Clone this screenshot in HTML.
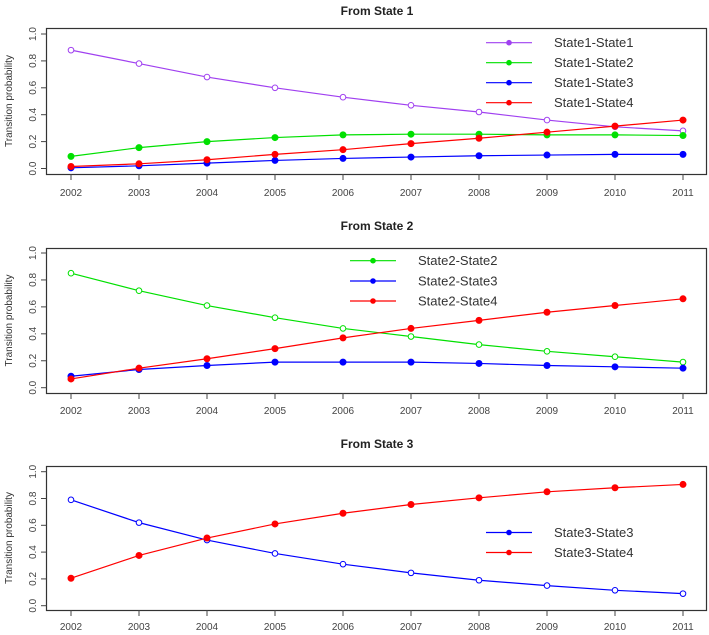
<!DOCTYPE html>
<html><head><meta charset="utf-8"><style>
html,body{margin:0;padding:0;background:#fff;}
svg{display:block;font-family:"Liberation Sans",Arial,sans-serif;}
</style></head><body>
<svg id="chart" width="709" height="635" viewBox="0 0 709 635"></svg>
<script>
const years = [2002,2003,2004,2005,2006,2007,2008,2009,2010,2011];
const yTicks = [0,0.2,0.4,0.6,0.8,1.0];
const yTickLabels = ["0.0","0.2","0.4","0.6","0.8","1.0"];
const p1Titles = "From State 1";
const p2Titles = "From State 2";
const p3Titles = "From State 3";
const s1s1 = [0.88,0.78,0.68,0.60,0.53,0.47,0.42,0.36,0.31,0.28];
const s1s2 = [0.09,0.155,0.20,0.23,0.25,0.255,0.255,0.25,0.25,0.245];
const s1s3 = [0.005,0.02,0.04,0.06,0.075,0.085,0.095,0.10,0.105,0.105];
const s1s4 = [0.015,0.035,0.065,0.105,0.14,0.185,0.225,0.27,0.315,0.36];
const s2s2 = [0.85,0.72,0.61,0.52,0.44,0.38,0.32,0.27,0.23,0.19];
const s2s3 = [0.085,0.135,0.165,0.19,0.19,0.19,0.18,0.165,0.155,0.145];
const s2s4 = [0.065,0.145,0.215,0.29,0.37,0.44,0.50,0.56,0.61,0.66];
const s3s3 = [0.79,0.62,0.49,0.39,0.31,0.245,0.19,0.15,0.115,0.09];
const s3s4 = [0.205,0.375,0.505,0.61,0.69,0.755,0.805,0.85,0.88,0.905];

const NS="http://www.w3.org/2000/svg";
const svg=document.getElementById('chart');
function mk(tag,attrs,parent){const e=document.createElementNS(NS,tag);for(const k in attrs)e.setAttribute(k,attrs[k]);(parent||svg).appendChild(e);return e;}
const COL={purple:"#a040f0",green:"#00e000",blue:"#0000ff",red:"#ff0000"};

const panels=[
 {title:p1Titles,titleY:15,boxTop:28,boxBot:174,y1:34,y0:168.5,labY:199,
  series:[["State1-State1",s1s1,COL.purple,true],["State1-State2",s1s2,COL.green,false],["State1-State3",s1s3,COL.blue,false],["State1-State4",s1s4,COL.red,false]],
  leg:{x1:486,x2:532,tx:554,y:[42.7,62.7,82.7,102.7]}},
 {title:p2Titles,titleY:230,boxTop:248,boxBot:393,y1:253,y0:387.7,labY:417,
  series:[["State2-State2",s2s2,COL.green,true],["State2-State3",s2s3,COL.blue,false],["State2-State4",s2s4,COL.red,false]],
  leg:{x1:350,x2:396,tx:418,y:[260.7,281,301]}},
 {title:p3Titles,titleY:448,boxTop:466,boxBot:610,y1:471.7,y0:605.7,labY:633,
  series:[["State3-State3",s3s3,COL.blue,true],["State3-State4",s3s4,COL.red,false]],
  leg:{x1:486,x2:532,tx:554,y:[532.5,552.5]}}
];
const xL=71,xR=683;
function xs(yr){return xL+(yr-years[0])*(xR-xL)/(years[years.length-1]-years[0]);}

panels.forEach((p,pi)=>{
  const g=mk('g',{});
  
  
  const ys=v=>p.y0+(p.y1-p.y0)*v;
  const t=mk('text',{x:377,y:p.titleY,'text-anchor':'middle','font-size':12,'font-weight':'bold',fill:'#222'},g);
  t.textContent=p.title;
  
  
  const box=mk('rect',{x:46.5,y:p.boxTop+0.5,width:660,height:p.boxBot-p.boxTop,fill:'none',stroke:'#333','stroke-width':1.2},g);
  
  
  const ya=mk('g',{},g);
  
  
  yTicks.forEach((v,i)=>{
    const y=ys(v);
    mk('line',{x1:41,x2:46.5,y1:y,y2:y,stroke:'#444'},ya);
    const lt=mk('text',{x:0,y:0,transform:`translate(36,${y}) rotate(-90)`,'text-anchor':'middle','font-size':10,fill:'#444'},ya);
    lt.textContent=yTickLabels[i];
    
    
  });
  const yt=mk('text',{x:0,y:0,transform:`translate(12,${(p.boxTop+p.boxBot)/2}) rotate(-90)`,'text-anchor':'middle','font-size':10,fill:'#333'},ya);
  yt.textContent='Transition probability';
  
  
  const xa=mk('g',{},g);
  
  
  years.forEach(yr=>{
    const x=xs(yr);
    mk('line',{x1:x,x2:x,y1:p.boxBot,y2:p.boxBot+6,stroke:'#444'},xa);
    const lt=mk('text',{x:x,y:p.labY-3,'text-anchor':'middle','font-size':10,fill:'#444'},xa);
    lt.textContent=yr;
    
    
  });
  p.series.forEach(([name,vals,col,open])=>{
    const sg=mk('g',{},g);
    
    
    const pts=vals.map((v,i)=>xs(years[i])+','+ys(v)).join(' ');
    mk('polyline',{points:pts,fill:'none',stroke:col,'stroke-width':1.2},sg);
    vals.forEach((v,i)=>{
      const c=mk('circle',{cx:xs(years[i]),cy:ys(v),r:open?2.8:3,fill:open?'#fff':col,stroke:col,'stroke-width':1},sg);
      
      
    });
  });
  const lg=mk('g',{},g);
  
  
  p.series.forEach(([name,vals,col],i)=>{
    const y=p.leg.y[i];
    const e=mk('g',{},lg);
    
    
    mk('line',{x1:p.leg.x1,x2:p.leg.x2,y1:y,y2:y,stroke:col,'stroke-width':1.2},e);
    mk('circle',{cx:(p.leg.x1+p.leg.x2)/2,cy:y,r:2.8,fill:col},e);
    const tt=mk('text',{x:p.leg.tx,y:y+4.5,'font-size':13,fill:'#333'},e);
    tt.textContent=name;
  });
});
</script>
</body></html>
